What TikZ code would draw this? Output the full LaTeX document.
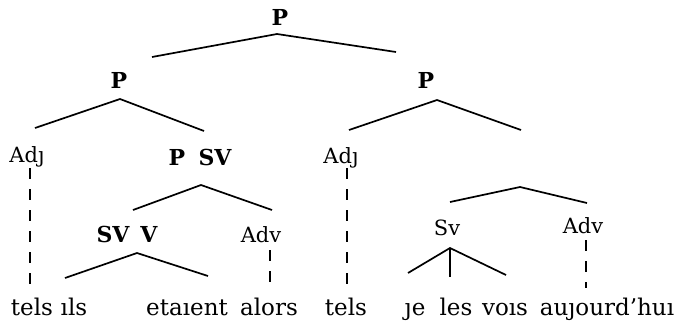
\documentclass[tikz,border=0pt]{standalone}
\usepackage{fontspec}
\setmainfont{DejaVu Serif}
\begin{document}
\begin{tikzpicture}[x=1pt,y=-1pt,
  lab/.style={inner sep=0pt,anchor=base,font=\fontsize{21}{25}\selectfont},
  blab/.style={lab,font=\fontsize{22}{26}\selectfont\bfseries},
  word/.style={inner sep=0pt,anchor=base,font=\fontsize{23}{28}\selectfont},
  branch/.style={line width=1.7pt,line join=miter},
  trace/.style={line width=1.7pt,dash pattern=on 11pt off 10pt}]
\useasboundingbox (0,0) rectangle (674,322);
% labels
\node[blab] (P0) at (280,25) {P};
\node[blab] (P1) at (119,88) {P};
\node[blab] (P2) at (426,88) {P};
\node[lab] (Adj1) at (27,162) {Ad\j};
\node[blab] (P3) at (177,165) {P};
\node[blab] (SV1) at (215,165) {SV};
\node[lab] (Adj2) at (341,163) {Ad\j};
\node[blab] (SV2) at (113,242) {SV};
\node[blab] (V) at (149,242) {V};
\node[lab] (Adv1) at (261,242) {Adv};
\node[lab] (Sv) at (447,235) {Sv};
\node[lab] (Adv2) at (583,233) {Adv};
% words
\node[word] (w1) at (32,315) {tels};
\node[word] (w2) at (74,315) {\i ls};
\node[word] (w3) at (187,315) {eta\i ent};
\node[word] (w4) at (269,315) {alors};
\node[word] (w5) at (346,315) {tels};
\node[word] (w6) at (415,315) {\j e};
\node[word] (w7) at (456,315) {les};
\node[word] (w8) at (505,315) {vo\i s};
\node[word] (w9) at (607,315) {au\j ourd'hu\i};
% branch coordinates
\coordinate (a0) at (277,34); \coordinate (l0) at (152,57); \coordinate (r0) at (396,52);
\coordinate (a1) at (120,99); \coordinate (l1) at (35,128); \coordinate (r1) at (204,131);
\coordinate (a2) at (437,100); \coordinate (l2) at (349,130); \coordinate (r2) at (521,130);
\coordinate (a3) at (201,185); \coordinate (l3) at (133,210); \coordinate (r3) at (272,210);
\coordinate (a4) at (137,253); \coordinate (l4) at (65,278); \coordinate (r4) at (208,276);
\coordinate (a5) at (520,187); \coordinate (l5) at (450,202); \coordinate (r5) at (587,203);
\coordinate (a6) at (450,248); \coordinate (l6) at (408,273); \coordinate (m6) at (450,277); \coordinate (r6) at (506,275);
\draw[branch] (l0) -- (a0) -- (r0);
\draw[branch] (l1) -- (a1) -- (r1);
\draw[branch] (l2) -- (a2) -- (r2);
\draw[branch] (l3) -- (a3) -- (r3);
\draw[branch] (l4) -- (a4) -- (r4);
\draw[branch] (l5) -- (a5) -- (r5);
\draw[branch] (l6) -- (a6) -- (r6);
\draw[branch] (a6) -- (m6);
% dashed traces
\coordinate (t1a) at (30,168); \coordinate (t1b) at (30,288);
\coordinate (t2a) at (270,250); \coordinate (t2b) at (270,288);
\coordinate (t3a) at (347,168); \coordinate (t3b) at (347,288);
\coordinate (t4a) at (586,240); \coordinate (t4b) at (586,288);
\draw[trace] (t1a) -- (t1b);
\draw[trace] (t2a) -- (t2b);
\draw[trace] (t3a) -- (t3b);
\draw[trace] (t4a) -- (t4b);
\end{tikzpicture}
\end{document}
